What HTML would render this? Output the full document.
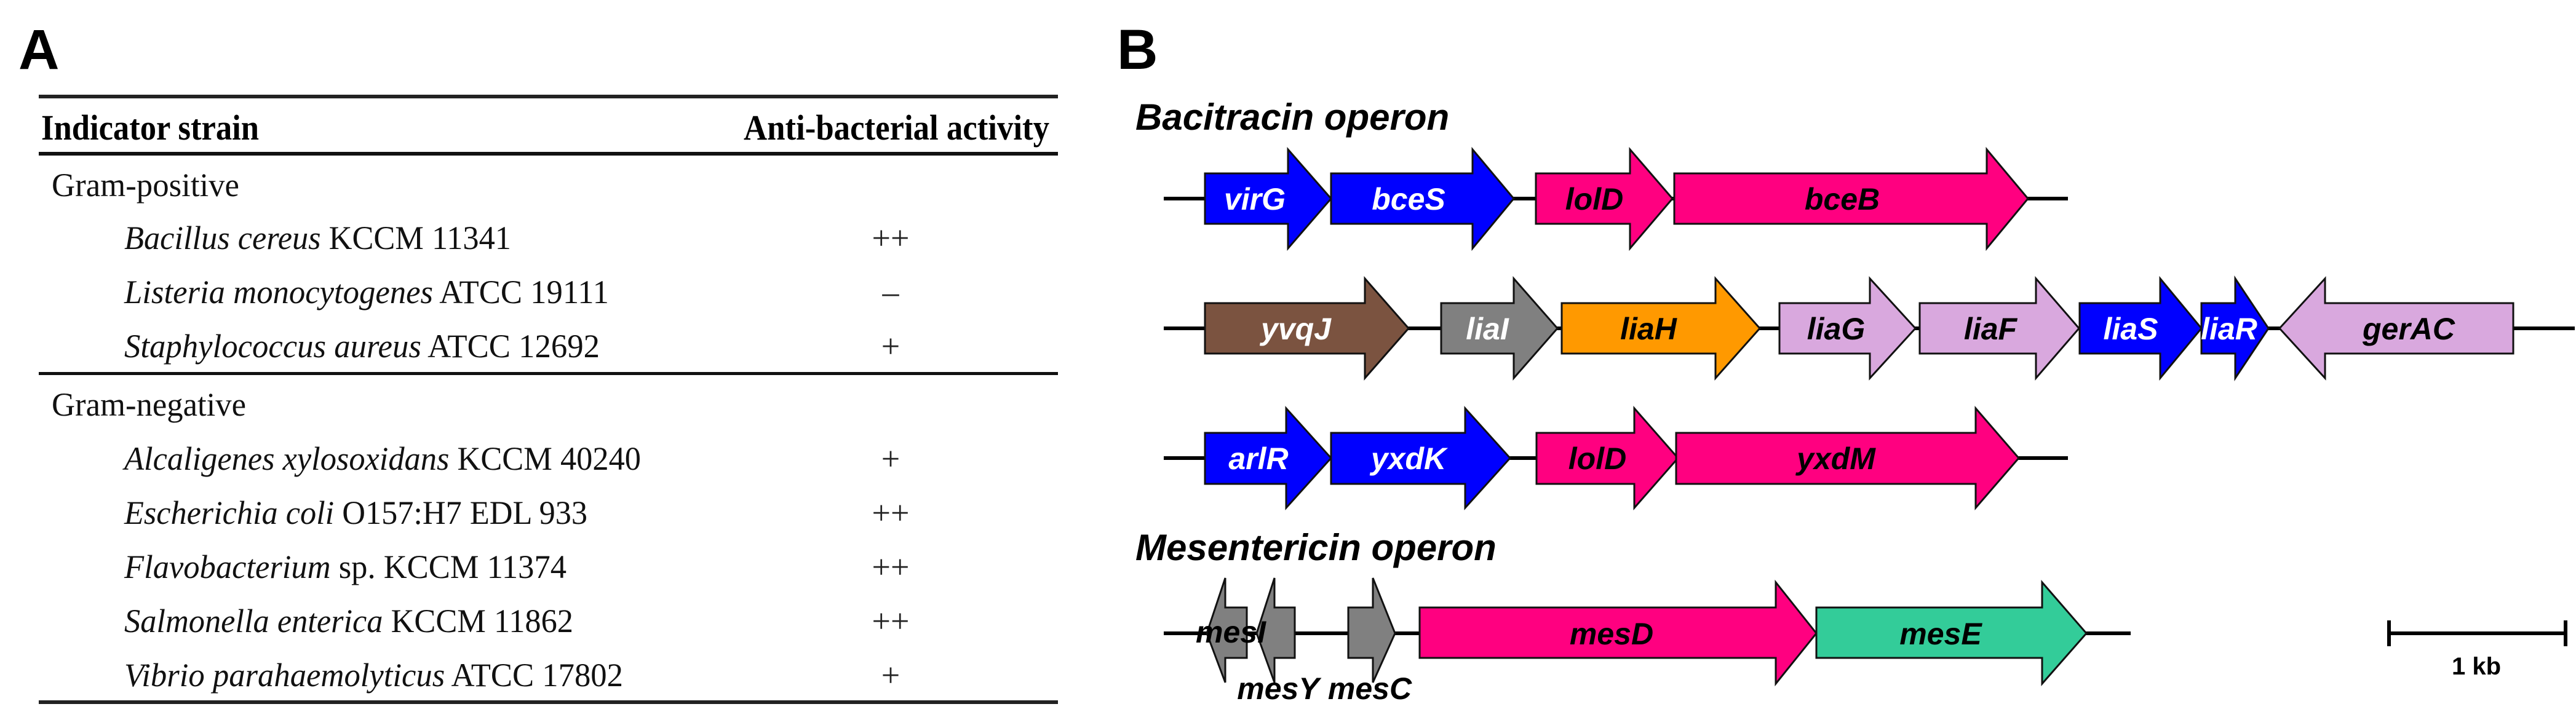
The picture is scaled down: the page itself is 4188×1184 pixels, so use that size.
<!DOCTYPE html>
<html><head><meta charset="utf-8"><style>
html,body{margin:0;padding:0;background:#fff;}
svg{display:block;}
.s{font-family:"Liberation Serif",serif;}
.a{font-family:"Liberation Sans",sans-serif;font-weight:bold;font-style:italic;}
</style></head><body>
<svg width="4188" height="1184" viewBox="0 0 4188 1184" xmlns="http://www.w3.org/2000/svg">
<!-- Panel A -->
<text x="30" y="112" font-family="Liberation Sans, sans-serif" font-weight="bold" font-size="92">A</text>
<rect x="63" y="154" width="1657" height="6" fill="#222"/>
<rect x="63" y="247" width="1657" height="6" fill="#111"/>
<rect x="63" y="605" width="1657" height="5" fill="#111"/>
<rect x="63" y="1139" width="1657" height="6" fill="#222"/>
<g class="s" font-size="58">
<text x="67" y="227" font-weight="bold" textLength="354" lengthAdjust="spacingAndGlyphs">Indicator strain</text>
<text x="1209" y="227" font-weight="bold" textLength="497" lengthAdjust="spacingAndGlyphs">Anti-bacterial activity</text>
</g>
<g class="s" font-size="54" fill="#111">
<text x="84" y="319" textLength="305" lengthAdjust="spacingAndGlyphs">Gram-positive</text>
<text x="202" y="405" textLength="629" lengthAdjust="spacingAndGlyphs"><tspan font-style="italic">Bacillus cereus</tspan> KCCM 11341</text>
<text x="202" y="493" textLength="788" lengthAdjust="spacingAndGlyphs"><tspan font-style="italic">Listeria monocytogenes</tspan> ATCC 19111</text>
<text x="202" y="581" textLength="773" lengthAdjust="spacingAndGlyphs"><tspan font-style="italic">Staphylococcus aureus</tspan> ATCC 12692</text>
<text x="84" y="676" textLength="316" lengthAdjust="spacingAndGlyphs">Gram-negative</text>
<text x="202" y="764" textLength="840" lengthAdjust="spacingAndGlyphs"><tspan font-style="italic">Alcaligenes xylosoxidans</tspan> KCCM 40240</text>
<text x="202" y="852" textLength="753" lengthAdjust="spacingAndGlyphs"><tspan font-style="italic">Escherichia coli</tspan> O157:H7 EDL 933</text>
<text x="202" y="940" textLength="719" lengthAdjust="spacingAndGlyphs"><tspan font-style="italic">Flavobacterium</tspan> sp. KCCM 11374</text>
<text x="202" y="1028" textLength="730" lengthAdjust="spacingAndGlyphs"><tspan font-style="italic">Salmonella enterica</tspan> KCCM 11862</text>
<text x="202" y="1116" textLength="811" lengthAdjust="spacingAndGlyphs"><tspan font-style="italic">Vibrio parahaemolyticus</tspan> ATCC 17802</text>
</g>
<g class="s" font-size="54" fill="#222" text-anchor="middle">
<text x="1448" y="405">++</text>
<text x="1448" y="493">–</text>
<text x="1448" y="581">+</text>
<text x="1448" y="764">+</text>
<text x="1448" y="852">++</text>
<text x="1448" y="940">++</text>
<text x="1448" y="1028">++</text>
<text x="1448" y="1116">+</text>
</g>

<!-- Panel B -->
<text x="1816" y="112" font-family="Liberation Sans, sans-serif" font-weight="bold" font-size="92">B</text>
<text x="1846" y="211" class="a" font-size="60">Bacitracin operon</text>
<text x="1846" y="911" class="a" font-size="60">Mesentericin operon</text>

<g stroke="#000" stroke-width="6">
<line x1="1892" y1="323" x2="3362" y2="323"/>
<line x1="1892" y1="534" x2="4186" y2="534"/>
<line x1="1892" y1="745" x2="3362" y2="745"/>
<line x1="1892" y1="1030" x2="3464" y2="1030"/>
</g>

<g stroke="#111" stroke-width="3" stroke-linejoin="miter">
<!-- Row 1: cy 323 body ±41 head ±80 -->
<polygon fill="#0000FF" points="1959,282 2094,282 2094,243 2164,323 2094,404 2094,364 1959,364"/>
<polygon fill="#0000FF" points="2164,282 2394,282 2394,243 2461,323 2394,404 2394,364 2164,364"/>
<polygon fill="#FF0080" points="2497,282 2650,282 2650,243 2719,323 2650,404 2650,364 2497,364"/>
<polygon fill="#FF0080" points="2722,282 3230,282 3230,243 3297,323 3230,404 3230,364 2722,364"/>
<!-- Row 2: cy 534 -->
<polygon fill="#7B5340" points="1959,493 2219,493 2219,453 2290,534 2219,615 2219,575 1959,575"/>
<polygon fill="#808080" points="2343,493 2461,493 2461,453 2532,534 2461,615 2461,575 2343,575"/>
<polygon fill="#FF9900" points="2539,493 2789,493 2789,453 2861,534 2789,615 2789,575 2539,575"/>
<polygon fill="#D9A8DE" points="2893,493 3040,493 3040,453 3114,534 3040,615 3040,575 2893,575"/>
<polygon fill="#D9A8DE" points="3121,493 3310,493 3310,453 3380,534 3310,615 3310,575 3121,575"/>
<polygon fill="#0000FF" points="3381,493 3512,493 3512,453 3579,534 3512,615 3512,575 3381,575"/>
<polygon fill="#0000FF" points="3579,493 3634,493 3634,453 3688,534 3634,615 3634,575 3579,575"/>
<polygon fill="#D9A8DE" points="4086,493 3780,493 3780,453 3706,534 3780,615 3780,575 4086,575"/>
<!-- Row 3: cy 745 -->
<polygon fill="#0000FF" points="1959,704 2091,704 2091,664 2164,745 2091,826 2091,787 1959,787"/>
<polygon fill="#0000FF" points="2164,704 2382,704 2382,664 2455,745 2382,826 2382,787 2164,787"/>
<polygon fill="#FF0080" points="2498,704 2657,704 2657,664 2728,745 2657,826 2657,787 2498,787"/>
<polygon fill="#FF0080" points="2725,704 3212,704 3212,664 3282,745 3212,826 3212,787 2725,787"/>
<!-- Row 4: cy 1030 -->
<polygon fill="#808080" points="2027,988 1992,988 1992,940 1962,1030 1992,1110 1992,1070 2027,1070"/>
<polygon fill="#808080" points="2105,988 2072,988 2072,940 2043,1030 2072,1110 2072,1070 2105,1070"/>
<polygon fill="#808080" points="2192,988 2232,988 2232,940 2268,1030 2232,1110 2232,1070 2192,1070"/>
<polygon fill="#FF0080" points="2308,988 2887,988 2887,947 2953,1030 2887,1112 2887,1070 2308,1070"/>
<polygon fill="#33CC99" points="2953,988 3320,988 3320,947 3392,1030 3320,1112 3320,1070 2953,1070"/>
</g>

<g class="a" font-size="50" text-anchor="middle">
<text x="2040" y="341" fill="#fff">virG</text>
<text x="2290" y="341" fill="#fff">bceS</text>
<text x="2592" y="341" fill="#000">lolD</text>
<text x="2995" y="341" fill="#000">bceB</text>
<text x="2107" y="552" fill="#fff">yvqJ</text>
<text x="2418" y="552" fill="#fff">liaI</text>
<text x="2680" y="552" fill="#000">liaH</text>
<text x="2985" y="552" fill="#000">liaG</text>
<text x="3236" y="552" fill="#000">liaF</text>
<text x="3464" y="552" fill="#fff">liaS</text>
<text x="3624" y="552" fill="#fff">liaR</text>
<text x="3916" y="552" fill="#000">gerAC</text>
<text x="2046" y="763" fill="#fff">arlR</text>
<text x="2290" y="763" fill="#fff">yxdK</text>
<text x="2597" y="763" fill="#000">lolD</text>
<text x="2985" y="763" fill="#000">yxdM</text>
<text x="2620" y="1048" fill="#000">mesD</text>
<text x="3155" y="1048" fill="#000">mesE</text>
<text x="2001" y="1045" fill="#000">mesI</text>
<text x="2078" y="1137" fill="#000">mesY</text>
<text x="2227" y="1137" fill="#000">mesC</text>
</g>

<!-- scale bar -->
<g stroke="#000" stroke-width="6">
<line x1="3882" y1="1030" x2="4173" y2="1030"/>
<line x1="3884" y1="1009" x2="3884" y2="1051"/>
<line x1="4171" y1="1009" x2="4171" y2="1051"/>
</g>
<text x="4026" y="1097" text-anchor="middle" font-family="Liberation Sans, sans-serif" font-weight="bold" font-size="40">1 kb</text>
</svg>
</body></html>
